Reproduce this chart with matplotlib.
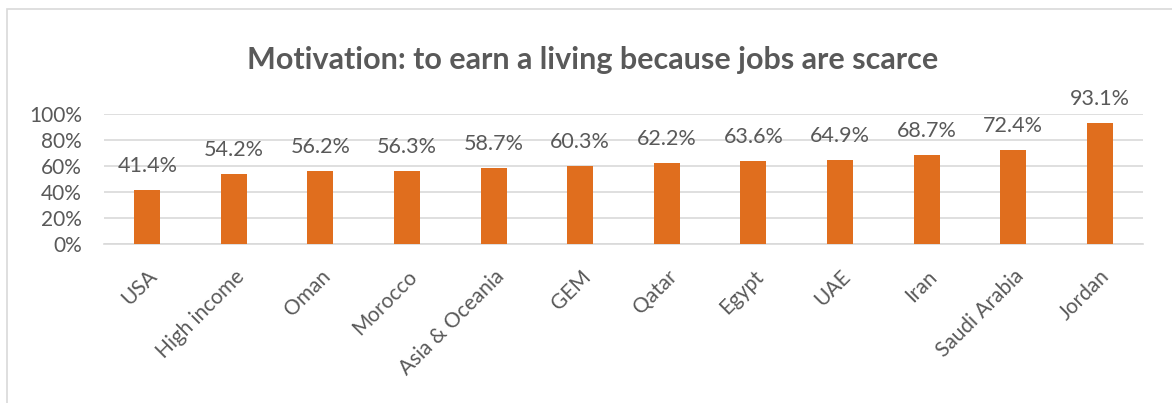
import matplotlib
matplotlib.use("Agg")
import matplotlib.pyplot as plt
from matplotlib.patches import Rectangle
from matplotlib.ticker import PercentFormatter

categories = ["USA", "High income", "Oman", "Morocco", "Asia & Oceania", "GEM",
              "Qatar", "Egypt", "UAE", "Iran", "Saudi Arabia", "Jordan"]
values = [41.4, 54.2, 56.2, 56.3, 58.7, 60.3, 62.2, 63.6, 64.9, 68.7, 72.4, 93.1]
y_ticks = [0, 20, 40, 60, 80, 100]

title = "Motivation: to earn a living because jobs are scarce"

plt.rcParams["font.family"] = ["Lato", "DejaVu Sans"]
text_color = "#595959"
bar_color = "#E06E1E"
grid_color = "#D9D9D9"

fig = plt.figure(figsize=(11.72, 4.03), dpi=100)
fig.patch.set_facecolor("white")

# chart-area frame
fig.add_artist(Rectangle((7 / 1172, -0.1), 1.2, (403 - 9.5) / 403 + 0.1,
                         transform=fig.transFigure, fill=False,
                         edgecolor=grid_color, linewidth=1.2))

ax = fig.add_axes([104 / 1172, 1 - 244 / 403, (1143 - 104) / 1172, 130 / 403])
x = range(len(categories))
bars = ax.bar(x, values, width=0.30, color=bar_color, zorder=3)

ax.set_xlim(-0.5, len(categories) - 0.5)
ax.set_ylim(0, 100)
ax.set_yticks(y_ticks)
ax.yaxis.set_major_formatter(PercentFormatter(decimals=0))
ax.grid(axis="y", color=grid_color, linewidth=1.2, zorder=0)
for side in ("top", "right", "left"):
    ax.spines[side].set_visible(False)
ax.spines["bottom"].set_color(grid_color)
ax.spines["bottom"].set_linewidth(1.2)
ax.tick_params(length=0, labelsize=15, colors=text_color)
ax.tick_params(axis="y", pad=16)
ax.set_xticks(list(x))
ax.set_xticklabels(categories, rotation=45, ha="right", rotation_mode="anchor")
ax.tick_params(axis="x", pad=16)

for rect, v in zip(bars, values):
    ax.annotate(f"{v:.1f}%", (rect.get_x() + rect.get_width() / 2, v),
                xytext=(0, 10), textcoords="offset points",
                ha="center", va="bottom", fontsize=15.5, color=text_color,
                annotation_clip=False)

fig.text(593 / 1172, 1 - 60 / 403, title, ha="center", va="center",
         fontsize=22, fontweight="bold", color=text_color)

fig.savefig("out.png", dpi=100)
